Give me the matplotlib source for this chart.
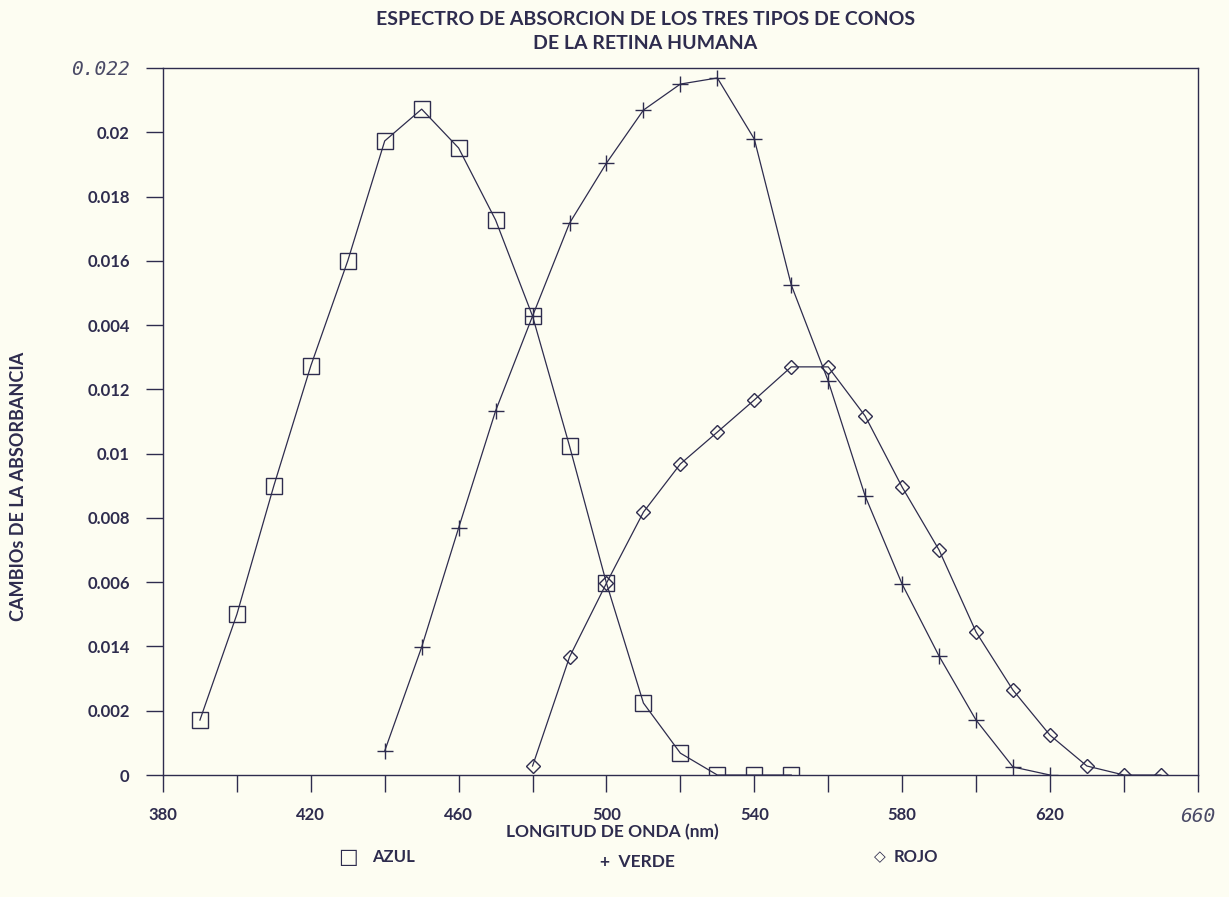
import matplotlib.pyplot as plt

# longitudes de onda (nm) y absorbancia de cada tipo de cono
x_azul = [390, 400, 410, 420, 430, 440, 450, 460, 470, 480, 490, 500, 510, 520, 530, 540, 550]
y_azul = [0.00171, 0.0050, 0.0090, 0.01273, 0.0160, 0.01973, 0.02072, 0.01951, 0.01727,
          0.01428, 0.01024, 0.00597, 0.00224, 0.00068, 0.0, 0.0, 0.0]

x_verde = [440, 450, 460, 470, 480, 490, 500, 510, 520, 530, 540, 550, 560, 570, 580, 590, 600, 610, 620]
y_verde = [0.00075, 0.00398, 0.00769, 0.01133, 0.01428, 0.01717, 0.01904, 0.02069, 0.0215,
           0.02169, 0.01979, 0.01525, 0.01226, 0.00868, 0.00594, 0.0037, 0.00171, 0.00025, 0.0]

x_rojo = [480, 490, 500, 510, 520, 530, 540, 550, 560, 570, 580, 590, 600, 610, 620, 630, 640, 650]
y_rojo = [0.00028, 0.00367, 0.00597, 0.00818, 0.00968, 0.01067, 0.01167, 0.0127, 0.0127,
          0.01117, 0.00896, 0.0070, 0.00445, 0.00264, 0.00124, 0.00028, 0.0, 0.0]

x_ticks = [380, 420, 460, 500, 540, 580, 620, 660]
x_minor = [400, 440, 480, 520, 560, 600, 640]
y_ticks = [0, 0.002, 0.004, 0.006, 0.008, 0.01, 0.012, 0.014, 0.016, 0.018, 0.02, 0.022]
# etiquetas tal como aparecen en el original
y_labels = ['0', '0.002', '0.014', '0.006', '0.008', '0.01', '0.012', '0.004',
            '0.016', '0.018', '0.02', '0.022']

ink = '#2e2c4e'
paper = '#fdfdf2'
plt.rcParams['font.family'] = ['Lato', 'DejaVu Sans']

fig = plt.figure(figsize=(12.29, 8.97), dpi=100, facecolor=paper)
ax = fig.add_axes([0.1326, 0.136, 0.842, 0.7882], facecolor=paper)

kw = dict(color=ink, linewidth=0.9, markerfacecolor='none', markeredgecolor=ink, markeredgewidth=1.0)
ax.plot(x_azul, y_azul, marker='s', markersize=11, **kw)
ax.plot(x_verde, y_verde, marker='+', markersize=12, **kw)
ax.plot(x_rojo, y_rojo, marker='D', markersize=7, **kw)

ax.set_xlim(380, 660)
ax.set_ylim(0, 0.022)
for s in ax.spines.values():
    s.set_color(ink)
    s.set_linewidth(1.0)

ax.set_xticks(x_ticks)
ax.set_xticks(x_minor, minor=True)
ax.set_xticklabels([str(v) for v in x_ticks])
ax.set_yticks(y_ticks)
ax.set_yticklabels(y_labels)
ax.tick_params(axis='both', which='major', direction='out', length=12, width=1, color=ink,
               labelcolor=ink, labelsize=12)
ax.tick_params(axis='x', which='minor', direction='out', length=12, width=1, color=ink)
ax.tick_params(axis='x', pad=11)
ax.tick_params(axis='y', pad=12)
for lab in ax.get_xticklabels() + ax.get_yticklabels():
    lab.set_fontweight('bold')
# los extremos van escritos con otra letra
for lab in [ax.get_xticklabels()[-1], ax.get_yticklabels()[-1]]:
    lab.set_fontweight('normal')
    lab.set_fontstyle('italic')
    lab.set_family('DejaVu Sans Mono')
    lab.set_fontsize(14)
    lab.set_color('#4a4a66')

fig.text(0.525, 0.988, 'ESPECTRO DE ABSORCION DE LOS TRES TIPOS DE CONOS\nDE LA RETINA HUMANA',
         ha='center', va='top', fontsize=14, fontweight='bold', color=ink, linespacing=1.5)
fig.text(0.015, 0.458, 'CAMBIOs DE LA ABSORBANCIA', rotation=90, ha='center', va='center',
         fontsize=13, fontweight='bold', color=ink)
fig.text(0.498, 0.072, 'LONGITUD DE ONDA (nm)', ha='center', va='center',
         fontsize=12.5, fontweight='bold', color=ink)
fig.text(0.275, 0.045, '\u25a1', ha='left', va='center', fontsize=15, color=ink, family='DejaVu Sans')
fig.text(0.303, 0.045, 'AZUL', ha='left', va='center', fontsize=12, fontweight='bold', color=ink)
fig.text(0.488, 0.039, '+  VERDE', ha='left', va='center', fontsize=12.5, fontweight='bold', color=ink)
fig.text(0.711, 0.045, '\u25c7', ha='left', va='center', fontsize=11, color=ink, family='DejaVu Sans')
fig.text(0.727, 0.045, 'ROJO', ha='left', va='center', fontsize=12, fontweight='bold', color=ink)

fig.savefig('out.png', dpi=100, facecolor=paper)
